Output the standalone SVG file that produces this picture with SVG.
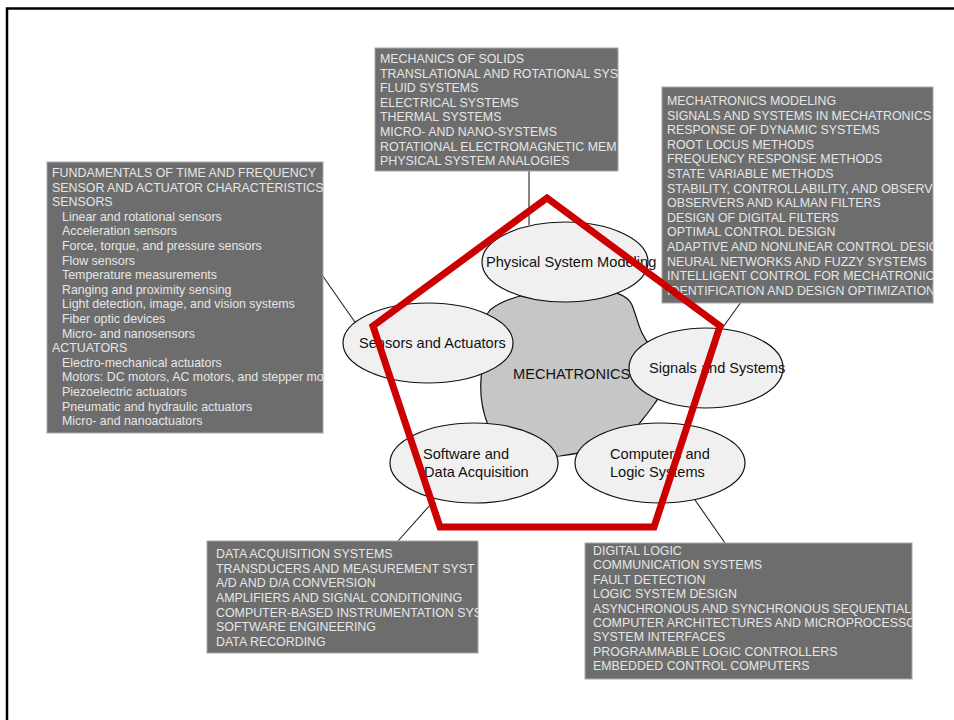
<svg xmlns="http://www.w3.org/2000/svg" width="954" height="720" viewBox="0 0 954 720">
<style>
.box{fill:#6d6d6d;stroke:#a8a8a8;stroke-width:1}
.bt{font-family:"Liberation Sans",Arial,sans-serif;font-size:12.4px;fill:#e6e6e6}
.el{fill:#f0f0f0;stroke:#111;stroke-width:1.2}
.lb{font-family:"Liberation Sans",Arial,sans-serif;font-size:14.6px;fill:#111}
.cn{stroke:#222;stroke-width:1.1;fill:none}
</style>
<defs>
<clipPath id="cTop"><rect x="375" y="48" width="243" height="123"/></clipPath>
<clipPath id="cLeft"><rect x="47" y="162" width="276" height="271"/></clipPath>
<clipPath id="cRight"><rect x="662" y="87" width="271" height="216"/></clipPath>
<clipPath id="cBL"><rect x="207" y="541" width="271" height="112"/></clipPath>
<clipPath id="cBR"><rect x="585" y="543" width="327" height="136"/></clipPath>
</defs>
<rect width="954" height="720" fill="#fff"/>
<path d="M7,720 V8.5 H954" fill="none" stroke="#000" stroke-width="2.5"/>

<g id="connectors">
<line class="cn" x1="529" y1="171" x2="529" y2="225"/>
<line class="cn" x1="322" y1="275" x2="357" y2="325"/>
<line class="cn" x1="741" y1="302" x2="721" y2="330"/>
<line class="cn" x1="431" y1="504" x2="398" y2="541"/>
<line class="cn" x1="695" y1="500" x2="725" y2="543"/>
</g>

<g id="box-physical">
<rect class="box" x="375" y="48" width="243" height="123"/>
<g clip-path="url(#cTop)" class="bt">
<text x="380" y="63">MECHANICS OF SOLIDS</text>
<text x="380" y="77.6">TRANSLATIONAL AND ROTATIONAL SYS</text>
<text x="380" y="92.2">FLUID SYSTEMS</text>
<text x="380" y="106.8">ELECTRICAL SYSTEMS</text>
<text x="380" y="121.4">THERMAL SYSTEMS</text>
<text x="380" y="136">MICRO- AND NANO-SYSTEMS</text>
<text x="380" y="150.6">ROTATIONAL ELECTROMAGNETIC MEM</text>
<text x="380" y="165.2">PHYSICAL SYSTEM ANALOGIES</text>
</g>
</g>

<g id="box-sensors">
<rect class="box" x="47" y="162" width="276" height="271"/>
<g clip-path="url(#cLeft)" class="bt">
<text x="52" y="177">FUNDAMENTALS OF TIME AND FREQUENCY</text>
<text x="52" y="191.6">SENSOR AND ACTUATOR CHARACTERISTICS</text>
<text x="52" y="206.2">SENSORS</text>
<text x="62" y="220.8">Linear and rotational sensors</text>
<text x="62" y="235.4">Acceleration sensors</text>
<text x="62" y="250">Force, torque, and pressure sensors</text>
<text x="62" y="264.6">Flow sensors</text>
<text x="62" y="279.2">Temperature measurements</text>
<text x="62" y="293.8">Ranging and proximity sensing</text>
<text x="62" y="308.4">Light detection, image, and vision systems</text>
<text x="62" y="323">Fiber optic devices</text>
<text x="62" y="337.6">Micro- and nanosensors</text>
<text x="52" y="352.2">ACTUATORS</text>
<text x="62" y="366.8">Electro-mechanical actuators</text>
<text x="62" y="381.4">Motors: DC motors, AC motors, and stepper mo</text>
<text x="62" y="396">Piezoelectric actuators</text>
<text x="62" y="410.6">Pneumatic and hydraulic actuators</text>
<text x="62" y="425.2">Micro- and nanoactuators</text>
</g>
</g>

<g id="box-signals">
<rect class="box" x="662" y="87" width="271" height="216"/>
<g clip-path="url(#cRight)" class="bt">
<text x="667" y="105">MECHATRONICS MODELING</text>
<text x="667" y="119.6">SIGNALS AND SYSTEMS IN MECHATRONICS</text>
<text x="667" y="134.2">RESPONSE OF DYNAMIC SYSTEMS</text>
<text x="667" y="148.8">ROOT LOCUS METHODS</text>
<text x="667" y="163.4">FREQUENCY RESPONSE METHODS</text>
<text x="667" y="178">STATE VARIABLE METHODS</text>
<text x="667" y="192.6">STABILITY, CONTROLLABILITY, AND OBSERV</text>
<text x="667" y="207.2">OBSERVERS AND KALMAN FILTERS</text>
<text x="667" y="221.8">DESIGN OF DIGITAL FILTERS</text>
<text x="667" y="236.4">OPTIMAL CONTROL DESIGN</text>
<text x="667" y="251">ADAPTIVE AND NONLINEAR CONTROL DESIG</text>
<text x="667" y="265.6">NEURAL NETWORKS AND FUZZY SYSTEMS</text>
<text x="667" y="280.2">INTELLIGENT CONTROL FOR MECHATRONIC</text>
<text x="667" y="294.8">IDENTIFICATION AND DESIGN OPTIMIZATION</text>
</g>
</g>

<g id="box-software">
<rect class="box" x="207" y="541" width="271" height="112"/>
<g clip-path="url(#cBL)" class="bt">
<text x="216" y="558">DATA ACQUISITION SYSTEMS</text>
<text x="216" y="572.7">TRANSDUCERS AND MEASUREMENT SYST</text>
<text x="216" y="587.4">A/D AND D/A CONVERSION</text>
<text x="216" y="602">AMPLIFIERS AND SIGNAL CONDITIONING</text>
<text x="216" y="616.7">COMPUTER-BASED INSTRUMENTATION SYS</text>
<text x="216" y="631.4">SOFTWARE ENGINEERING</text>
<text x="216" y="646">DATA RECORDING</text>
</g>
</g>

<g id="box-computers">
<rect class="box" x="585" y="543" width="327" height="136"/>
<g clip-path="url(#cBR)" class="bt">
<text x="593" y="555">DIGITAL LOGIC</text>
<text x="593" y="569.4">COMMUNICATION SYSTEMS</text>
<text x="593" y="583.8">FAULT DETECTION</text>
<text x="593" y="598.2">LOGIC SYSTEM DESIGN</text>
<text x="593" y="612.6">ASYNCHRONOUS AND SYNCHRONOUS SEQUENTIAL</text>
<text x="593" y="627">COMPUTER ARCHITECTURES AND MICROPROCESSO</text>
<text x="593" y="641.4">SYSTEM INTERFACES</text>
<text x="593" y="655.8">PROGRAMMABLE LOGIC CONTROLLERS</text>
<text x="593" y="670.2">EMBEDDED CONTROL COMPUTERS</text>
</g>
</g>

<g id="node-mechatronics">
<path d="M490,310 C505,298 530,292 560,290 C600,288 625,290 632,305 C638,320 640,335 650,345 C665,358 666,390 655,403 C648,413 642,420 636,428 C620,445 590,452 560,456 C530,458 495,445 488,425 C482,410 479,390 482,370 C484,345 478,325 490,310 Z" fill="#c6c6c6" stroke="#111" stroke-width="1.2"/>
<text class="lb" x="513" y="379">MECHATRONICS</text>
</g>

<g id="node-physical">
<ellipse class="el" cx="565" cy="262" rx="83" ry="40"/>
<text class="lb" x="486" y="267">Physical System Modeling</text>
</g>
<g id="node-sensors">
<ellipse class="el" cx="428" cy="343" rx="85" ry="40"/>
<text class="lb" x="359" y="348">Sensors and Actuators</text>
</g>
<g id="node-signals">
<ellipse class="el" cx="706" cy="368" rx="77" ry="40"/>
<text class="lb" x="649" y="373">Signals and Systems</text>
</g>
<g id="node-software">
<ellipse class="el" cx="474" cy="463" rx="84" ry="40"/>
<text class="lb" x="423" y="459">Software and</text>
<text class="lb" x="424" y="477">Data Acquisition</text>
</g>
<g id="node-computers">
<ellipse class="el" cx="660" cy="463" rx="85" ry="40"/>
<text class="lb" x="610" y="459">Computers and</text>
<text class="lb" x="610" y="477">Logic Systems</text>
</g>

<polygon id="pentagon" points="547,198 720,326 654,527 440,527 373,326" fill="none" stroke="#cc0000" stroke-width="7"/>
</svg>
